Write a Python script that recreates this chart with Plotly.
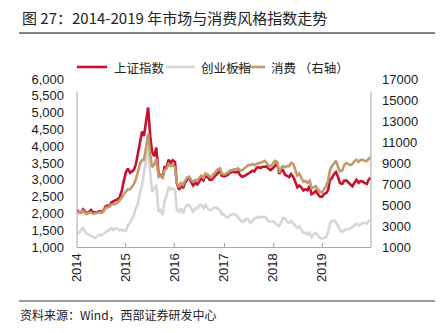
import pandas as pd
import plotly.graph_objects as go

# ---------------- data (semi-monthly readings, 2014-01 .. 2019-12) ----------------
sh_index = [
    2110, 2030, 2030, 2120, 2060, 2000, 2040, 2100, 2030, 2030, 2040, 2070, 2050, 2060, 2200, 2230, 2220, 2330, 2360, 2370, 2420, 2480, 2680, 2950,
    3230, 3330, 3210, 3250, 3300, 3450, 3800, 4200, 4440, 4300, 4830, 5150, 4280, 3820, 3700, 3960, 3160, 3150, 3050, 3380, 3380, 3600, 3500, 3580,
    3530, 2900, 2700, 2850, 2750, 2900, 3010, 3070, 2940, 2830, 2910, 2860, 2950, 3050, 2980, 3110, 3080, 3000, 3000, 3070, 3120, 3200, 3270, 3120,
    3100, 3120, 3160, 3220, 3240, 3240, 3220, 3250, 3140, 3090, 3110, 3140, 3190, 3220, 3270, 3250, 3360, 3370, 3350, 3390, 3390, 3400, 3320, 3290,
    3350, 3430, 3490, 3180, 3260, 3290, 3150, 3120, 3080, 3170, 3080, 2950, 2780, 2830, 2770, 2680, 2720, 2690, 2820, 2570, 2610, 2670, 2580, 2500,
    2490, 2570, 2610, 2690, 2990, 3050, 3170, 3230, 3080, 2900, 2880, 2970, 2980, 2930, 2860, 2810, 2920, 3000, 2910, 2960, 2950, 2900, 2880, 3010,
    3060,
]
cyb_index = [
    1400, 1420, 1500, 1560, 1470, 1400, 1360, 1330, 1290, 1270, 1320, 1370, 1340, 1380, 1420, 1460, 1510, 1560, 1500, 1560, 1540, 1500, 1520, 1480,
    1480, 1650, 1720, 1850, 1950, 2150, 2300, 2600, 2850, 3200, 3650, 3950, 3200, 2650, 2750, 2850, 2050, 2100, 1950, 2350, 2550, 2800, 2700, 2750,
    2700, 2100, 2050, 2150, 2000, 2150, 2250, 2250, 2150, 2050, 2150, 2150, 2250, 2250, 2150, 2250, 2150, 2100, 2100, 2170, 2180, 2150, 2100, 1980,
    1960, 1900, 1880, 1950, 1960, 1980, 1950, 1880, 1820, 1750, 1780, 1830, 1830, 1720, 1780, 1850, 1870, 1900, 1880, 1900, 1900, 1830, 1760, 1760,
    1760, 1730, 1650, 1630, 1720, 1870, 1850, 1750, 1720, 1780, 1700, 1620, 1570, 1620, 1500, 1420, 1430, 1370, 1420, 1300, 1380, 1420, 1350, 1270,
    1250, 1280, 1300, 1420, 1700, 1780, 1800, 1740, 1630, 1500, 1450, 1500, 1530, 1530, 1550, 1600, 1650, 1690, 1640, 1660, 1720, 1700, 1700, 1780,
    1800,
]
consumer_index = [
    4400, 4250, 4300, 4450, 4250, 4150, 4250, 4300, 4150, 4200, 4250, 4300, 4250, 4350, 4700, 4800, 4850, 5050, 5100, 5100, 5250, 5450, 5700, 6000,
    6300, 6500, 6500, 6700, 7000, 7400, 8200, 8900, 9300, 9300, 10600, 11800, 9800, 8600, 8900, 9400, 7700, 7800, 7600, 8300, 8500, 8900, 8700, 8800,
    8600, 7100, 6700, 7100, 6900, 7300, 7600, 7700, 7400, 7200, 7400, 7300, 7600, 7800, 7600, 8000, 7900, 7700, 7700, 7900, 8100, 8400, 8500, 8000,
    7900, 8000, 8100, 8300, 8300, 8400, 8400, 8500, 8300, 8300, 8500, 8700, 8800, 8800, 8900, 8800, 8900, 9000, 9000, 9100, 9200, 9000, 8700, 8700,
    9000, 9200, 9100, 8100, 8500, 8700, 8600, 8700, 8700, 9000, 8900, 8400, 7800, 8000, 7600, 7200, 7300, 7100, 7300, 6600, 6700, 6800, 6500, 6250,
    6200, 6500, 6800, 7300, 8300, 8700, 9000, 9200, 8600, 8200, 8300, 8800, 9000, 8900, 8800, 8900, 9200, 9300, 9100, 9300, 9300, 9200, 9200, 9400,
    9550,
]
dates = list(pd.date_range("2014-01-01", "2019-12-15", freq="SMS")) + [pd.Timestamp("2019-12-31")]

series_names = ["上证指数", "创业板指", "消费 （右轴）"]
year_ticks = ["2014", "2015", "2016", "2017", "2018", "2019"]
left_ticks = list(range(1000, 6001, 500))
right_ticks = list(range(1000, 17001, 2000))

title_text = "图 27：2014-2019 年市场与消费风格指数走势"
source_text = "资料来源：Wind，西部证券研发中心"

# ---------------- styling ----------------
W, H = 445, 333
L, R, T, B = 77, 74, 79, 86
PW, PH = W - L - R, H - T - B
RED, GRAY, TAN = "#C8102E", "#D6D6D6", "#C09A6B"
AXC = "#A6A6A6"
FONT = "Liberation Sans, Arial, Noto Sans CJK SC, sans-serif"
CJK = "Noto Sans CJK SC, Liberation Sans, sans-serif"


def px_x(x):
    return (x - L) / PW


def px_y(y):
    return (H - B - y) / PH


fig = go.Figure()
fig.add_trace(go.Scatter(x=dates, y=sh_index, mode="lines", line=dict(color=RED, width=2.6), yaxis="y", showlegend=False))
fig.add_trace(go.Scatter(x=dates, y=cyb_index, mode="lines", line=dict(color=GRAY, width=2.6), yaxis="y", showlegend=False))
fig.add_trace(go.Scatter(x=dates, y=consumer_index, mode="lines", line=dict(color=TAN, width=2.6), yaxis="y2", showlegend=False))

tick_font = dict(family=FONT, size=13, color="#1a1a1a")
yr = [1000, 6000]
yr2 = [1000, 17000]

fig.update_layout(
    width=W, height=H,
    margin=dict(l=L, r=R, t=T, b=B, pad=0),
    paper_bgcolor="white", plot_bgcolor="white",
    showlegend=False,
    xaxis=dict(
        type="date", range=["2014-01-01", "2020-01-01"],
        tickvals=[f"{y}-01-01" for y in year_ticks], ticktext=year_ticks,
        tickangle=-90, ticks="inside", ticklen=4, tickcolor=AXC,
        showline=True, linecolor=AXC, linewidth=1,
        showgrid=False, zeroline=False, tickfont=tick_font,
    ),
    yaxis=dict(
        range=yr, tickvals=left_ticks, tickformat=",", ticks="",
        showline=False, showgrid=False, zeroline=False, tickfont=tick_font,
        ticklabelstandoff=12,
    ),
    yaxis3=dict(
        range=yr, overlaying="y", side="left", anchor="x",
        tickvals=left_ticks[:-1], ticks="inside", ticklen=4, tickcolor=AXC,
        showticklabels=False, showline=False, showgrid=False, zeroline=False,
    ),
    yaxis2=dict(
        range=yr2, overlaying="y", side="right", anchor="x",
        tickvals=right_ticks, tickformat="d", ticks="",
        showline=False, showgrid=False, zeroline=False, tickfont=tick_font,
        ticklabelstandoff=10,
    ),
    yaxis4=dict(
        range=yr2, overlaying="y", side="right", anchor="x",
        tickvals=right_ticks[:-1], ticks="inside", ticklen=4, tickcolor=AXC,
        showticklabels=False, showline=False, showgrid=False, zeroline=False,
    ),
    title=dict(
        text=title_text, x=22 / W, xanchor="left", y=1 - 19 / H, yanchor="middle",
        font=dict(family=CJK, size=15, color="#222222"),
    ),
)

shapes = [
    # left and right axis lines (stop short of the top)
    dict(type="line", xref="paper", yref="y", x0=0, x1=0, y0=1000, y1=5620, line=dict(color=AXC, width=1)),
    dict(type="line", xref="paper", yref="y", x0=1, x1=1, y0=1000, y1=5620, line=dict(color=AXC, width=1)),
    # rule under the title and above the source
    dict(type="line", xref="paper", yref="paper", x0=px_x(19), x1=px_x(435), y0=px_y(33), y1=px_y(33), line=dict(color="#5a5a5a", width=1.5)),
    dict(type="line", xref="paper", yref="paper", x0=px_x(19), x1=px_x(435), y0=px_y(301), y1=px_y(301), line=dict(color="#9a9a9a", width=2)),
]

# manual legend
legend_items = [(RED, 77, 107, 112), (GRAY, 166, 195, 199), (TAN, 236, 265, 269)]
annotations = []
ly = px_y(67)
for (col, x0, x1, tx), name in zip(legend_items, series_names):
    shapes.append(dict(type="line", xref="paper", yref="paper", x0=px_x(x0), x1=px_x(x1), y0=ly, y1=ly, line=dict(color=col, width=2.6)))
    annotations.append(dict(text=name, xref="paper", yref="paper", x=px_x(tx), y=ly, xanchor="left", yanchor="middle",
                            showarrow=False, font=dict(family=CJK, size=12.5, color="#222222")))

annotations.append(dict(text=source_text, xref="paper", yref="paper", x=px_x(18), y=px_y(314), xanchor="left", yanchor="middle",
                        showarrow=False, font=dict(family=CJK, size=12, color="#222222")))

fig.update_layout(shapes=shapes, annotations=annotations)
fig.write_html("out.html")
